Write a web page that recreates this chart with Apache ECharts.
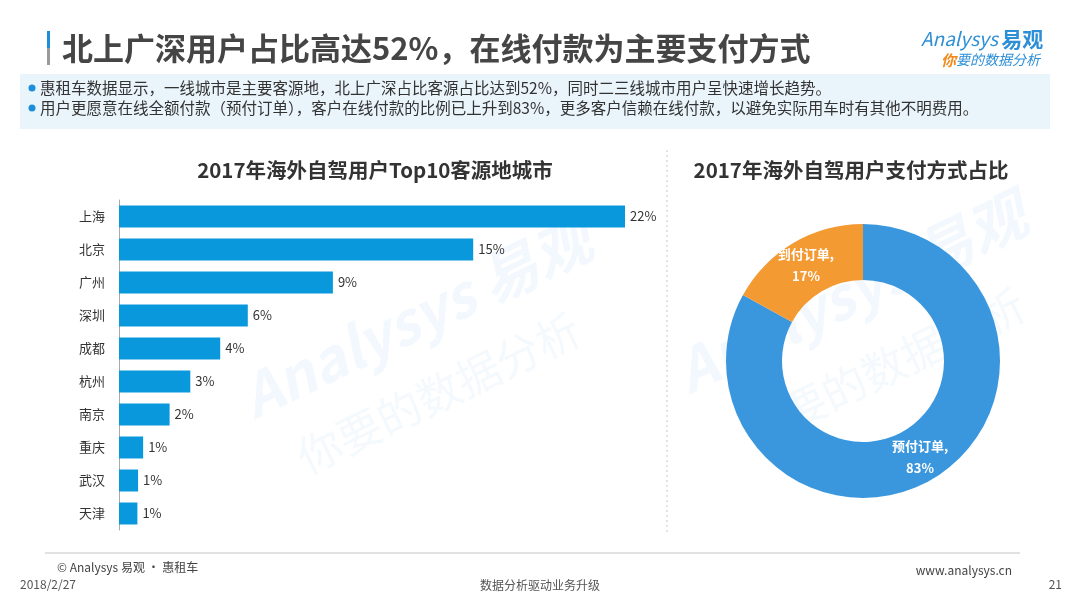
<!DOCTYPE html>
<html>
<head>
<meta charset="utf-8">
<script src="https://cdn.jsdelivr.net/npm/echarts@6/dist/echarts.min.js"></script>
<style>
html, body { margin: 0; padding: 0; background: #fff; }
#main { width: 1080px; height: 608px; }
</style>
</head>
<body>
<div id="main"></div>
<script>
// Top10 客源地城市（条长按图读取，标签取整）
var cityNames = ['上海', '北京', '广州', '深圳', '成都', '杭州', '南京', '重庆', '武汉', '天津'];
var cityShare = [22.0, 15.4, 9.3, 5.6, 4.4, 3.1, 2.2, 1.05, 0.83, 0.8];

// 支付方式占比
var payNames = ['预付订单', '到付订单'];
var payShare = [83, 17];

var FONT = '"Noto Sans CJK SC", "Noto Sans", sans-serif';

var pieData = [];
for (var i = 0; i < payNames.length; i++) {
    pieData.push({ name: payNames[i], value: payShare[i] });
}

function txt(x, y, text, size, color, opt) {
    opt = opt || {};
    return {
        type: 'text', x: x, y: y, z: opt.z || 10, rotation: opt.rotation || 0,
        style: {
            text: text, fontSize: size, fill: color, fontFamily: FONT,
            fontWeight: opt.bold ? 'bold' : 'normal',
            fontStyle: opt.italic ? 'italic' : 'normal',
            align: opt.align || 'left', verticalAlign: 'middle',
            opacity: opt.opacity == null ? 1 : opt.opacity
        }
    };
}

var myChart = echarts.init(document.getElementById('main'));

var option = {
    backgroundColor: '#fff',
    animation: false,
    textStyle: { fontFamily: FONT },
    grid: { left: 119, top: 200, width: 575, height: 330 },
    xAxis: { type: 'value', min: 0, max: 25, show: false },
    yAxis: {
        type: 'category',
        data: cityNames,
        inverse: true,
        axisLine: { lineStyle: { color: '#aaa' } },
        axisTick: { show: false },
        axisLabel: { color: '#333', fontSize: 13, margin: 14 }
    },
    series: [
        {
            type: 'bar',
            data: cityShare,
            barWidth: 22,
            itemStyle: { color: '#0a98dd' },
            label: {
                show: true, position: 'right', distance: 5,
                color: '#333', fontSize: 13,
                formatter: function (p) { return Math.round(p.value) + '%'; }
            },
            z: 5
        },
        {
            type: 'pie',
            center: [863, 361],
            radius: [81, 137],
            startAngle: 90,
            clockwise: true,
            data: pieData,
            color: ['#3a97de', '#f39a33'],
            label: {
                show: true, position: 'inside',
                formatter: '{b},\n{c}%',
                color: '#fff', fontSize: 13, fontWeight: 'bold', lineHeight: 22
            },
            labelLine: { show: false },
            emphasis: { disabled: true },
            z: 5
        }
    ],
    graphic: [
        // 水印
        txt(245, 400, 'Analysys 易观', 58, '#cfe6f7', { bold: true, italic: true, rotation: 0.45, opacity: 0.28, z: 1 }),
        txt(300, 460, '你要的数据分析', 44, '#d6e9f7', { rotation: 0.45, opacity: 0.28, z: 1 }),
        txt(680, 375, 'Analysys 易观', 58, '#cfe6f7', { bold: true, italic: true, rotation: 0.45, opacity: 0.28, z: 1 }),
        txt(745, 435, '你要的数据分析', 44, '#d6e9f7', { rotation: 0.45, opacity: 0.28, z: 1 }),

        // 标题
        { type: 'rect', shape: { x: 47, y: 31, width: 3, height: 17 }, style: { fill: '#1b8fd8' } },
        { type: 'rect', shape: { x: 47, y: 48, width: 3, height: 17 }, style: { fill: '#9a9a9a' } },
        txt(62, 48, '北上广深用户占比高达52%，在线付款为主要支付方式', 31, '#454545', { bold: true }),

        // logo
        {
            type: 'text', x: 921, y: 39,
            style: {
                text: '{a|Analysys} {b|易观}',
                verticalAlign: 'middle',
                rich: {
                    a: { fontSize: 19, fill: '#2d8fd6', fontStyle: 'italic', fontFamily: FONT },
                    b: { fontSize: 21, fill: '#2d8fd6', fontWeight: 'bold', fontFamily: FONT }
                }
            }
        },
        {
            type: 'text', x: 941, y: 60,
            style: {
                text: '{a|你}{b|要的数据分析}',
                verticalAlign: 'middle',
                rich: {
                    a: { fontSize: 15, fill: '#f08a1c', fontWeight: 'bold', fontStyle: 'italic', fontFamily: FONT },
                    b: { fontSize: 14, fill: '#2d8fd6', fontStyle: 'italic', fontFamily: FONT }
                }
            }
        },

        // 说明框
        { type: 'rect', z: 2, shape: { x: 20, y: 74, width: 1030, height: 55 }, style: { fill: '#eaf4fb' } },
        { type: 'circle', z: 3, shape: { cx: 32, cy: 88, r: 3.5 }, style: { fill: '#1b8fd8' } },
        { type: 'circle', z: 3, shape: { cx: 32, cy: 108, r: 3.5 }, style: { fill: '#1b8fd8' } },
        txt(40, 88, '惠租车数据显示，一线城市是主要客源地，北上广深占比客源占比达到52%，同时二三线城市用户呈快速增长趋势。', 15.5, '#333'),
        txt(40, 108, '用户更愿意在线全额付款（预付订单），客户在线付款的比例已上升到83%，更多客户信赖在线付款，以避免实际用车时有其他不明费用。', 15.5, '#333'),

        // 图表标题
        txt(375, 170, '2017年海外自驾用户Top10客源地城市', 20.5, '#333', { bold: true, align: 'center' }),
        txt(851, 170, '2017年海外自驾用户支付方式占比', 20.5, '#333', { bold: true, align: 'center' }),

        // 分隔线
        { type: 'line', shape: { x1: 667, y1: 150, x2: 667, y2: 535 }, style: { stroke: '#c8c8c8', lineWidth: 1, lineDash: [2, 3] } },

        // 页脚
        { type: 'line', shape: { x1: 45, y1: 553, x2: 1020, y2: 553 }, style: { stroke: '#c4c4c4', lineWidth: 1 } },
        txt(57, 567, '© Analysys 易观 · 惠租车', 12, '#444'),
        txt(20, 584, '2018/2/27', 12, '#555'),
        txt(540, 585, '数据分析驱动业务升级', 12, '#555', { align: 'center' }),
        txt(1012, 570, 'www.analysys.cn', 12, '#444', { align: 'right' }),
        txt(1062, 584, '21', 12, '#555', { align: 'right' })
    ]
};

myChart.setOption(option);
window.onresize = function () {
    myChart.resize();
};
</script>
</body>
</html>
